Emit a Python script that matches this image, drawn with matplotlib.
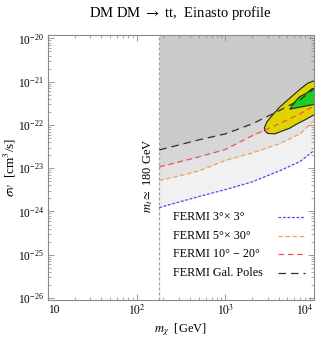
import matplotlib
matplotlib.use('Agg')
import matplotlib.pyplot as plt
from matplotlib.ticker import LogLocator, NullFormatter

plt.rcParams['font.family'] = ['Liberation Serif', 'DejaVu Serif']
plt.rcParams['mathtext.fontset'] = 'stix'

# FERMI limits on <sigma v> vs DM mass (GeV)
mass = [180, 300, 500, 1000, 2000, 4000, 7000, 10000]
fermi_3x3 = [1.23e-24, 1.65e-24, 2.2e-24, 3.2e-24, 4.8e-24, 8.5e-24, 1.43e-23, 2.54e-23]
fermi_5x30 = [5.2e-24, 6.6e-24, 8.6e-24, 1.51e-23, 2.24e-23, 3.6e-23, 6.2e-23, 1.24e-22]
fermi_10_20 = [1.07e-23, 1.39e-23, 1.82e-23, 2.7e-23, 5.6e-23, 1.05e-22, 1.8e-22, 2.75e-22]
fermi_poles = [2.64e-23, 3.44e-23, 4.5e-23, 6.2e-23, 1.05e-22, 2.1e-22, 3.8e-22, 6.8e-22]

# PAMELA-type fit regions (outer = yellow, inner = green)
yellow_m = [12000, 10000, 8530, 6935, 5350, 4130, 3350, 2945, 2760, 2800, 3020, 3620,
            4450, 5350, 6410, 7890, 10000, 12000]
yellow_sv = [1.3e-21, 1.04e-21, 9.2e-22, 6.6e-22, 4.15e-22, 2.6e-22, 1.62e-22, 1.17e-22,
             8.5e-23, 7.3e-23, 6.35e-23, 6.2e-23, 7.3e-23, 8.4e-23, 1.05e-22, 1.3e-22,
             1.7e-22, 2.0e-22]
green_m = [12000, 9400, 8260, 6935, 6100, 5350, 6100, 7550, 9400, 12000]
green_sv = [8.0e-22, 6.7e-22, 5.4e-22, 4.5e-22, 3.4e-22, 2.3e-22, 2.44e-22, 2.65e-22,
            2.9e-22, 3.1e-22]

mt = 180  # top mass threshold
labels = ['FERMI 3°× 3°', 'FERMI 5°× 30°', 'FERMI 10° − 20°', 'FERMI Gal. Poles']
curves = [fermi_3x3, fermi_5x30, fermi_10_20, fermi_poles]
styles = [dict(color='#4a4af0', lw=0.9, dashes=(2.2, 1.4)),
          dict(color='#f5a055', lw=0.9, dashes=(3.5, 2.2)),
          dict(color='#f05050', lw=0.9, dashes=(4.5, 3.0)),
          dict(color='#303030', lw=0.9, dashes=(6.0, 4.0))]

fig = plt.figure(figsize=(3.18, 3.39), dpi=100)
ax = fig.add_axes([0.151, 0.115, 0.836, 0.782])
ax.set_xscale('log')
ax.set_yscale('log')
ax.set_xlim(10, 1e4)
ax.set_ylim(9e-27, 1.2e-20)

# stacked grey shading above each limit
for c in curves:
    ax.fill_between(mass, c, 1e-19, color='black', alpha=0.053, lw=0, zorder=1)

ax.axvline(mt, color='#a0a0a0', lw=0.9, dashes=(2.5, 1.5), zorder=2)

ax.fill(yellow_m, yellow_sv, facecolor='#e0d400', edgecolor='#222222', lw=0.8, zorder=3)
ax.fill(green_m, green_sv, facecolor='#1ed01e', edgecolor='#222222', lw=0.8, zorder=4)

for c, st in zip(curves, styles):
    ax.plot(mass, c, zorder=5, **st)

ax.text(135, 6.6e-24, r'$m_t \simeq$ 180 GeV', rotation=90, ha='center', va='center',
        fontsize=9)

# legend: text left-aligned, line samples at the right
for i, (lab, st) in enumerate(zip(labels, styles)):
    yy = 0.314 - i * 0.071
    ax.text(0.47, yy, lab, transform=ax.transAxes, ha='left', va='center', fontsize=8.7)
    ax.plot([0.865, 0.966], [yy, yy], transform=ax.transAxes, **st)

ax.set_title(r'DM DM $\rightarrow$ tt,  Einasto profile', fontsize=10.5, pad=13)
ax.set_xlabel(r'$m_\chi$  [GeV]', fontsize=9, labelpad=2)
ax.set_ylabel(r'$\sigma v$  [cm$^3$/s]', fontsize=9.5, labelpad=0)

ax.set_xticks([10, 100, 1000, 10000], ['10', r'$10^2$', r'$10^3$', r'$10^4$'])
xl = ax.get_xticklabels()
xl[0].set_ha('left')
xl[-1].set_ha('right')
ax.xaxis.set_minor_locator(LogLocator(base=10, subs=range(2, 10), numticks=20))
ax.xaxis.set_minor_formatter(NullFormatter())
ax.set_yticks([1e-26, 1e-25, 1e-24, 1e-23, 1e-22, 1e-21, 1e-20])
ax.yaxis.set_minor_locator(LogLocator(base=10, subs=range(2, 10), numticks=20))
ax.yaxis.set_minor_formatter(NullFormatter())
ax.tick_params(which='both', direction='in', top=True, right=True, color='#8a8a8a',
               labelsize=8.3, pad=3)
ax.tick_params(which='major', length=4.5, width=0.6)
ax.tick_params(which='minor', length=2.5, width=0.5)
for s in ax.spines.values():
    s.set_color('#8a8a8a')
    s.set_linewidth(0.8)

plt.savefig('out.png', dpi=100, facecolor='white')
